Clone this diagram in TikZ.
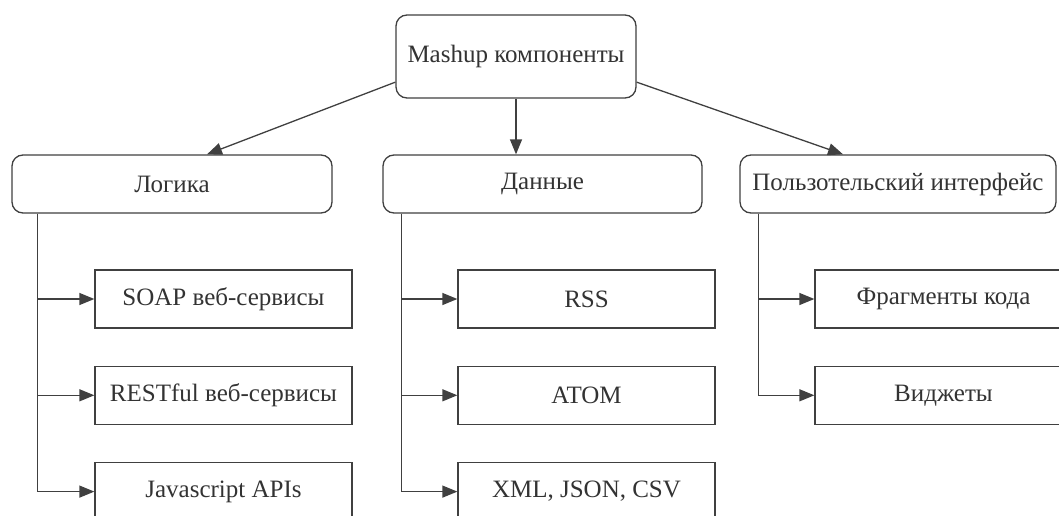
\documentclass[tikz,border=0pt]{standalone}
\usepackage{fontspec}
\setmainfont{Liberation Serif}
\usepackage{tikz}
\usetikzlibrary{arrows.meta,positioning,calc}

\begin{document}
\begin{tikzpicture}[
  x=1pt, y=1pt,
  font=\fontsize{25}{29}\selectfont,
  node distance=37pt,
  group/.style={draw=black!75, line width=1.3pt, rounded corners=11pt, minimum height=58pt, align=center, text=black!80, fill=white},
  item/.style={draw=black!75, line width=1.3pt, minimum width=257pt, minimum height=58pt, align=center, text=black!80, fill=white},
  flow/.style={-{Triangle[length=15pt,width=12pt]}, line width=1.3pt, color=black!75}
]
  \useasboundingbox (0,0) rectangle (1059,-516);
  \clip (0,0) rectangle (1059,-516);

  \node[group, minimum width=240pt, minimum height=83pt] (mashup) at (516,-56.5) {Mashup компоненты};

  \node[group, minimum width=320pt] (logic) at (172,-184) {Логика};
  \node[group, minimum width=319pt] (data) at (542.5,-184) {Данные};
  \node[group, minimum width=316pt] (ui) at (898,-184) {Пользотельский интерфейс};

  \node[item] (soap) at (223.5,-299) {SOAP веб-сервисы};
  \node[item, below=of soap] (rest) {RESTful веб-сервисы};
  \node[item, below=of rest] (jsapi) {Javascript APIs};

  \node[item] (rss) at (586.5,-299) {RSS};
  \node[item, below=of rss] (atom) {ATOM};
  \node[item, below=of atom] (xml) {XML, JSON, CSV};

  \node[item] (snippets) at (943.5,-299) {Фрагменты кода};
  \node[item, below=of snippets] (widgets) {Виджеты};

  % top level
  \draw[flow] (mashup.192) -- ([xshift=35pt]logic.north);
  \draw[flow] (mashup.south) -- (mashup.south |- data.north);
  \draw[flow] (mashup.348) -- ([xshift=-55pt]ui.north);

  % branches
  \draw[flow] ([xshift=26pt]logic.south west) |- (soap.west);
  \draw[flow] ([xshift=26pt]logic.south west) |- (rest.west);
  \draw[flow] ([xshift=26pt]logic.south west) |- (jsapi.west);

  \draw[flow] ([xshift=19pt]data.south west) |- (rss.west);
  \draw[flow] ([xshift=19pt]data.south west) |- (atom.west);
  \draw[flow] ([xshift=19pt]data.south west) |- (xml.west);

  \draw[flow] ([xshift=19pt]ui.south west) |- (snippets.west);
  \draw[flow] ([xshift=19pt]ui.south west) |- (widgets.west);
\end{tikzpicture}
\end{document}
